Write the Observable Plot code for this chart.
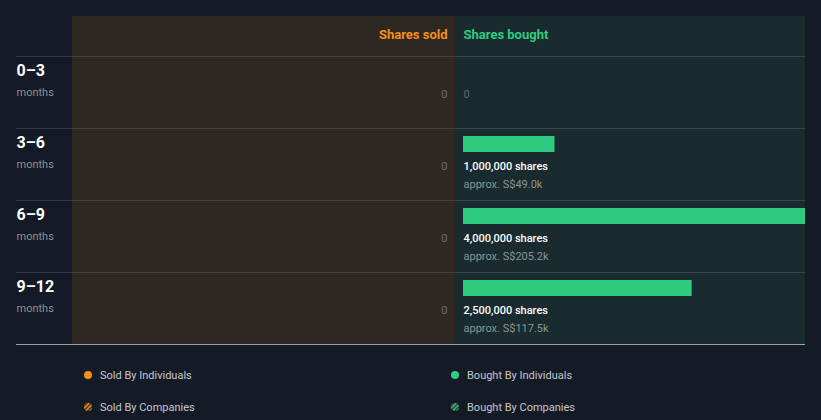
<!DOCTYPE html>
<html>
<head>
<meta charset="utf-8">
<script src="https://cdn.jsdelivr.net/npm/d3@7"></script>
<script src="https://cdn.jsdelivr.net/npm/@observablehq/plot@0.6"></script>
<style>
  html, body { margin: 0; padding: 0; background: #151b26; }
  body { width: 821px; height: 420px; overflow: hidden; font-family: Roboto, "Noto Sans", sans-serif; }
  #legend { position: relative; height: 70px; }
  .item { position: absolute; display: flex; align-items: center; font-size: 11px; color: #c4c8ce; }
  .item svg { margin-right: 8px; }
</style>
</head>
<body>
<div id="chart"></div>
<div id="legend"></div>
<script>
// ---- data ----
const periods = ["0–3", "3–6", "6–9", "9–12"];
const periodUnit = "months";
const soldShares = [0, 0, 0, 0];
const boughtShares = [0, 1000000, 4000000, 2500000];
const boughtValueK = [0, 49.0, 205.2, 117.5];
const headers = ["Shares sold", "Shares bought"];
const legendLabels = ["Sold By Individuals", "Bought By Individuals", "Sold By Companies", "Bought By Companies"];
const axisMax = 3.74e6; // visible extent of bought axis

// ---- colours ----
const BG = "#151b26", SOLD_BG = "#2d2822", BOUGHT_BG = "#1a2b2f";
const ORANGE = "#f39019", GREEN = "#2ecc80";

const rows = periods.map((p, i) => ({
  p, i, sold: soldShares[i], bought: boughtShares[i], valueK: boughtValueK[i]
}));

// layout (pixels)
const W = 821, H = 350, mL = 72, mR = 16, mT = 16, mB = 6;
const gap = 8;          // gap between panel divider and bars
const boughtPx = 342;   // width from bar start to right edge
const xMin = -axisMax * (W - mL - mR - boughtPx) / boughtPx;
const headerRows = -40 / 72;

const fmt = d3.format(",");

const chart = Plot.plot({
  width: W, height: H,
  marginLeft: mL, marginRight: mR, marginTop: mT, marginBottom: mB,
  style: { background: "transparent", fontFamily: "Roboto, 'Noto Sans', sans-serif" },
  x: { domain: [xMin, axisMax], clamp: true, axis: null },
  y: { domain: [headerRows, 4], reverse: true, axis: null },
  marks: [
    // panel backgrounds
    Plot.rect([{}], { x1: () => xMin, x2: () => 0, y1: () => headerRows, y2: () => 4, fill: SOLD_BG, insetRight: gap }),
    Plot.rect([{}], { x1: () => 0, x2: () => axisMax, y1: () => headerRows, y2: () => 4, fill: BOUGHT_BG, insetLeft: -gap }),
    // row separators
    Plot.ruleY(rows.map(d => d.i), { stroke: "#ffffff", strokeOpacity: 0.13, insetLeft: -(mL - 16) }),
    Plot.ruleY([periods.length], { stroke: "#b5bcbd", strokeOpacity: 0.85, insetLeft: -(mL - 16) }),
    // headers
    Plot.text([headers[0]], { x: () => 0, y: () => headerRows / 2, dx: -gap * 2, dy: -2, text: d => d, textAnchor: "end", fill: ORANGE, fontWeight: "bold", fontSize: 13 }),
    Plot.text([headers[1]], { x: () => 0, y: () => headerRows / 2, dy: -2, text: d => d, textAnchor: "start", fill: GREEN, fontWeight: "bold", fontSize: 13 }),
    // row labels
    Plot.text(rows, { x: () => xMin, y: "i", dx: -(mL - 16), dy: 14, text: "p", textAnchor: "start", fill: "#ffffff", fontWeight: "bold", fontSize: 16 }),
    Plot.text(rows, { x: () => xMin, y: "i", dx: -(mL - 16), dy: 36, text: () => periodUnit, textAnchor: "start", fill: "#8a8f98", fontSize: 11 }),
    // sold zeros
    Plot.text(rows, { x: () => 0, y: d => d.i + 0.5, dx: -gap * 2, dy: 2, text: d => fmt(d.sold), textAnchor: "end", fill: "#6e6b66", fontSize: 11 }),
    // bought bars
    Plot.rect(rows.filter(d => d.bought > 0), { x1: () => 0, x2: "bought", y1: "i", y2: d => d.i + 1, insetTop: 8, insetBottom: 48, fill: GREEN }),
    // bought zeros
    Plot.text(rows.filter(d => d.bought === 0), { x: () => 0, y: d => d.i + 0.5, dy: 2, text: d => fmt(d.bought), textAnchor: "start", fill: "#5f6e70", fontSize: 11 }),
    // bought labels
    Plot.text(rows.filter(d => d.bought > 0), { x: () => 0, y: d => d.i + 0.5, dy: 2, text: d => fmt(d.bought) + " shares", textAnchor: "start", fill: "#ffffff", fontWeight: 500, fontSize: 11 }),
    Plot.text(rows.filter(d => d.bought > 0), { x: () => 0, y: d => d.i + 0.5, dy: 20, text: d => "approx. S$" + d.valueK.toFixed(1) + "k", textAnchor: "start", fill: "#8a9597", fontSize: 11 })
  ]
});
document.getElementById("chart").appendChild(chart);

// ---- legend ----
const legend = document.getElementById("legend");
const pos = [[84, 25], [451, 25], [84, 57], [451, 57]];
const colors = [ORANGE, GREEN, ORANGE, GREEN];
legendLabels.forEach((lab, k) => {
  const item = document.createElement("div");
  item.className = "item";
  item.style.left = pos[k][0] + "px";
  item.style.top = (pos[k][1] - 8) + "px";
  item.style.height = "16px";
  const striped = k >= 2;
  const id = "pat" + k;
  item.innerHTML =
    `<svg width="8" height="8" viewBox="0 0 8 8">` +
    (striped
      ? `<defs><pattern id="${id}" width="3" height="3" patternUnits="userSpaceOnUse" patternTransform="rotate(45)"><rect width="3" height="3" fill="#3a3226"/><rect width="1.5" height="3" fill="${colors[k]}"/></pattern></defs><circle cx="4" cy="4" r="4" fill="url(#${id})"/>`
      : `<circle cx="4" cy="4" r="4" fill="${colors[k]}"/>`) +
    `</svg><span>${lab}</span>`;
  legend.appendChild(item);
});
</script>
</body>
</html>
